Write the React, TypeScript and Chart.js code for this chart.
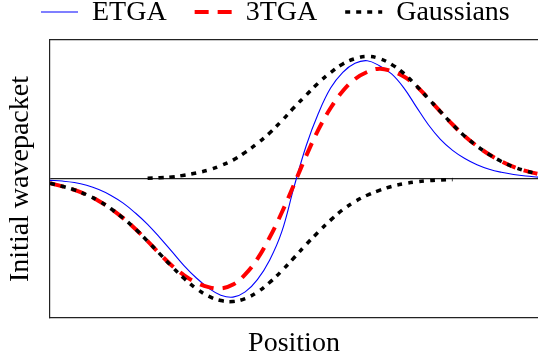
import React, { useEffect, useRef } from 'react';
import { Chart, registerables } from 'chart.js';

Chart.register(...registerables);

// Sample positions shared by every curve
const positions = [
  0, 0.2, 0.4, 0.6, 0.8, 1.0, 1.2, 1.4, 1.6, 1.8,
  2.0, 2.2, 2.4, 2.6, 2.8, 3.0, 3.2, 3.4, 3.6, 3.8,
  4.0, 4.2, 4.4, 4.6, 4.8, 5.0, 5.2, 5.4, 5.6, 5.8,
  6.0, 6.2, 6.4, 6.6, 6.8, 7.0, 7.2, 7.4, 7.6, 7.8, 8.0,
];

// Exact time-gauge wavepacket
const etga = [
  -0.011, -0.017, -0.029, -0.052, -0.087, -0.135, -0.198, -0.279, -0.372, -0.481,
  -0.596, -0.712, -0.812, -0.895, -0.953, -0.969, -0.926, -0.825, -0.666, -0.432,
  -0.066, 0.273, 0.539, 0.746, 0.875, 0.949, 0.97, 0.929, 0.862, 0.748,
  0.596, 0.447, 0.325, 0.235, 0.168, 0.117, 0.08, 0.055, 0.037, 0.024, 0.015,
];

// Three-term approximation
const tga3 = [
  -0.035, -0.06, -0.089, -0.129, -0.18, -0.244, -0.321, -0.41, -0.51, -0.614,
  -0.712, -0.79, -0.85, -0.887, -0.897, -0.866, -0.782, -0.655, -0.48, -0.275,
  -0.045, 0.19, 0.405, 0.582, 0.722, 0.82, 0.878, 0.905, 0.885, 0.84,
  0.766, 0.661, 0.553, 0.447, 0.351, 0.27, 0.201, 0.144, 0.099, 0.066, 0.042,
];

// Positive Gaussian component (drawn from 1.6 onward)
const gaussPlus = [
  null, null, null, null, null, null, null, null, 0.006, 0.01,
  0.017, 0.031, 0.05, 0.074, 0.11, 0.155, 0.218, 0.292, 0.377, 0.478,
  0.586, 0.688, 0.788, 0.873, 0.944, 0.987, 1.005, 0.988, 0.94, 0.866,
  0.768, 0.661, 0.553, 0.447, 0.351, 0.27, 0.201, 0.144, 0.099, 0.066, 0.042,
];

// Negative Gaussian component (drawn up to 6.6)
const gaussMinus = [
  -0.035, -0.06, -0.089, -0.129, -0.18, -0.244, -0.321, -0.41, -0.51, -0.614,
  -0.719, -0.816, -0.899, -0.961, -0.997, -1.005, -0.981, -0.928, -0.849, -0.753,
  -0.646, -0.537, -0.434, -0.337, -0.252, -0.185, -0.133, -0.093, -0.061, -0.039,
  -0.024, -0.014, -0.008, -0.005, null, null, null, null, null, null, null,
];

const legendLabels = ['ETGA', '3TGA', 'Gaussians'];
const xTitle = 'Position';
const yTitle = 'Initial wavepacket';

const FONT_FAMILY = '"Liberation Serif", "Times New Roman", serif';
const FONT_SIZE = 28;
const AXIS_COLOR = '#222222';
const AXIS_WIDTH = 1.2;

// Legend row drawn across the top margin, one sample line per labelled series
const topLegend = {
  id: 'topLegend',
  afterDraw(chart: any) {
    const ctx: CanvasRenderingContext2D = chart.ctx;
    const sampleLen = 37;
    const textGap = 14;
    const itemGap = 28;
    const lineY = 12;
    const textY = 19.5;
    ctx.save();
    ctx.font = `${FONT_SIZE}px ${FONT_FAMILY}`;
    ctx.textBaseline = 'alphabetic';
    ctx.textAlign = 'left';
    let x = 41;
    legendLabels.forEach((label) => {
      const ds = chart.data.datasets.find((d: any) => d.label === label);
      if (!ds) return;
      ctx.beginPath();
      ctx.setLineDash(ds.borderDash || []);
      ctx.lineCap = 'butt';
      ctx.lineWidth = ds.borderWidth;
      ctx.strokeStyle = ds.borderColor;
      ctx.moveTo(x, lineY);
      ctx.lineTo(x + sampleLen, lineY);
      ctx.stroke();
      ctx.setLineDash([]);
      ctx.fillStyle = '#000000';
      const tx = x + sampleLen + textGap;
      ctx.fillText(label, tx, textY);
      x = tx + ctx.measureText(label).width + itemGap;
    });
    ctx.restore();
  },
};

export default function App() {
  const canvasRef = useRef<HTMLCanvasElement>(null);

  useEffect(() => {
    const canvas = canvasRef.current;
    if (!canvas) return;
    const toPoints = (ys: (number | null)[]) => positions.map((x, i) => ({ x, y: ys[i] }));
    const border = { display: true, color: AXIS_COLOR, width: AXIS_WIDTH };
    const titleFont = { family: FONT_FAMILY, size: FONT_SIZE, lineHeight: '28px' };

    const chart = new Chart(canvas, {
      type: 'line',
      data: {
        datasets: [
          {
            label: 'ETGA',
            data: toPoints(etga),
            borderColor: '#0000ff',
            borderWidth: 1.1,
            order: 3,
          },
          {
            label: '3TGA',
            data: toPoints(tga3),
            borderColor: '#ff0000',
            borderWidth: 4,
            borderDash: [14, 9],
            order: 2,
          },
          {
            label: 'Gaussians',
            data: toPoints(gaussPlus),
            borderColor: '#000000',
            borderWidth: 3.5,
            borderDash: [5, 6],
            order: 1,
          },
          {
            label: 'Gaussians (negative)',
            data: toPoints(gaussMinus),
            borderColor: '#000000',
            borderWidth: 3.5,
            borderDash: [5, 6],
            order: 1,
          },
        ],
      } as any,
      options: {
        animation: false,
        responsive: false,
        layout: { padding: { top: 40, left: 0, right: 0, bottom: 0 } },
        elements: {
          point: { radius: 0, hoverRadius: 0 },
          line: { tension: 0.4, fill: false },
        },
        plugins: {
          legend: { display: false },
          tooltip: { enabled: false },
        },
        scales: {
          x: {
            type: 'linear',
            position: 'bottom',
            min: 0,
            max: 8,
            grid: { display: false },
            ticks: { display: false },
            border,
            title: {
              display: true,
              text: xTitle,
              color: '#000000',
              font: titleFont,
              padding: { top: 0, bottom: 2.5 },
            },
            afterFit: (s: any) => {
              s.height = 42;
            },
          },
          xTop: {
            type: 'linear',
            position: 'top',
            min: 0,
            max: 8,
            grid: { display: false },
            ticks: { display: false },
            border,
            afterFit: (s: any) => {
              s.height = 0;
            },
          },
          y: {
            type: 'linear',
            min: -1.14,
            max: 1.14,
            afterBuildTicks: (s: any) => {
              s.ticks = [{ value: 0 }];
            },
            grid: { display: true, drawTicks: false, color: AXIS_COLOR, lineWidth: AXIS_WIDTH },
            ticks: { display: false },
            border,
            title: {
              display: true,
              text: yTitle,
              color: '#000000',
              font: titleFont,
              padding: { top: 7, bottom: 0 },
            },
            afterFit: (s: any) => {
              s.width = 50;
            },
          },
        },
      } as any,
      plugins: [topLegend],
    });

    return () => chart.destroy();
  }, []);

  return (
    <div style={{ position: 'fixed', left: 0, top: 0, width: 538, height: 360, background: '#ffffff' }}>
      <canvas ref={canvasRef} width={538} height={360} style={{ display: 'block' }} />
    </div>
  );
}
